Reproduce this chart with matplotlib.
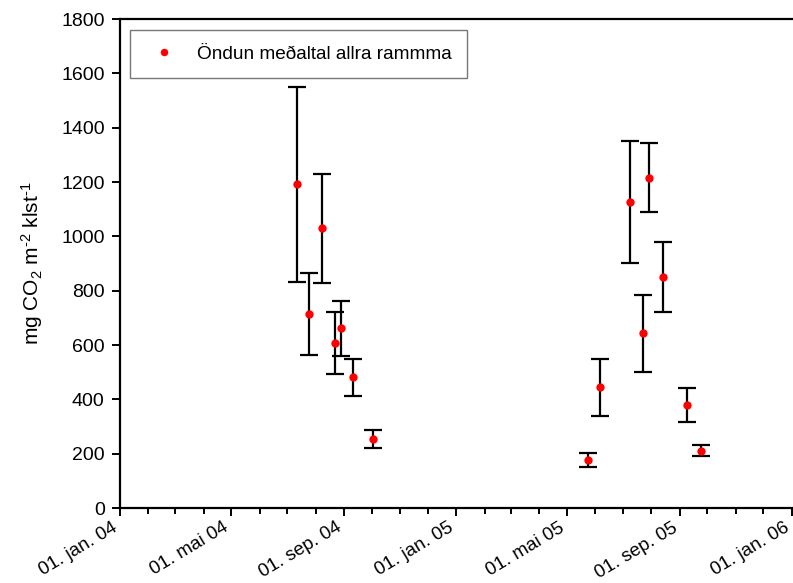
import matplotlib
matplotlib.use("Agg")
import matplotlib.pyplot as plt
import matplotlib.dates as mdates
import matplotlib.transforms as mtransforms
import datetime as dt

plt.rcParams['font.family'] = ['Liberation Sans', 'DejaVu Sans']
plt.rcParams['mathtext.fontset'] = 'custom'
plt.rcParams['mathtext.rm'] = 'Liberation Sans'
plt.rcParams['mathtext.it'] = 'Liberation Sans'
plt.rcParams['mathtext.default'] = 'regular'

# Mean respiration of all frames, with error bars
dates = ["2004-07-12", "2004-07-25", "2004-08-08", "2004-08-22", "2004-08-28",
         "2004-09-11", "2004-10-02",
         "2005-05-24", "2005-06-06", "2005-07-09", "2005-07-23", "2005-07-30",
         "2005-08-14", "2005-09-09", "2005-09-24"]
means = [1191, 714, 1029, 608, 661, 481, 254,
         176, 444, 1127, 643, 1216, 851, 379, 211]
errors = [358, 152, 202, 113, 101, 67, 34,
          25, 104, 225, 142, 127, 130, 63, 21]

tick_dates = ["2004-01-01", "2004-05-01", "2004-09-01", "2005-01-01",
              "2005-05-01", "2005-09-01", "2006-01-01"]
tick_labels = ["01. jan. 04", "01. mai 04", "01. sep. 04", "01. jan. 05",
               "01. mai 05", "01. sep. 05", "01. jan. 06"]
y_ticks = [0, 200, 400, 600, 800, 1000, 1200, 1400, 1600, 1800]

x = [dt.datetime.strptime(d, "%Y-%m-%d") for d in dates]
xt = [dt.datetime.strptime(d, "%Y-%m-%d") for d in tick_dates]

fig = plt.figure(figsize=(7.93, 5.83), dpi=100)
ax = fig.add_axes([0.1513, 0.1286, 0.8474, 0.8388])

ax.errorbar(x, means, yerr=errors, fmt='none', ecolor='black',
            elinewidth=1.6, capsize=6.5, capthick=1.6, zorder=2)
ax.plot(x, means, 'o', color='#ff0000', markersize=6,
        markeredgewidth=0, zorder=3, label='Öndun meðaltal allra rammma')

ax.set_xlim(xt[0], xt[-1])
ax.set_ylim(0, 1800)

ax.set_xticks(xt)
ax.set_xticklabels(tick_labels, rotation=31, ha='right', va='top',
                   rotation_mode='anchor', fontsize=13.5)
ax.xaxis.set_minor_locator(mdates.MonthLocator())
ax.set_yticks(y_ticks)
ax.set_yticklabels([str(v) for v in y_ticks], fontsize=14)

ax.tick_params(axis='both', which='major', direction='out', length=6,
               width=1.4, color='black')
ax.tick_params(axis='x', which='minor', direction='out', length=4,
               width=1.4, color='black')
ax.tick_params(axis='x', which='major', pad=2)
ax.tick_params(axis='y', which='major', pad=5)

# nudge the rotated date labels so they end just under their ticks
shift = mtransforms.ScaledTranslation(-6 / 72, 0, fig.dpi_scale_trans)
for lbl in ax.get_xticklabels():
    lbl.set_transform(lbl.get_transform() + shift)

for s in ['left', 'bottom', 'top']:
    ax.spines[s].set_linewidth(1.6)
ax.spines['right'].set_visible(False)

ax.set_ylabel('mg CO$_2$ m$^{\\text{-2}}$ klst$^{\\text{-1}}$', fontsize=15)
ax.yaxis.set_label_coords(-0.112, 0.5)

leg = ax.legend(loc='upper left', bbox_to_anchor=(0.015, 0.977),
                fontsize=13.7, frameon=True, fancybox=False,
                borderpad=0.8, handletextpad=0.74, borderaxespad=0.0,
                handlelength=2.0, markerscale=0.9)
leg.get_frame().set_edgecolor('#555555')
leg.get_frame().set_linewidth(1.0)

fig.savefig('out.png', dpi=100)
